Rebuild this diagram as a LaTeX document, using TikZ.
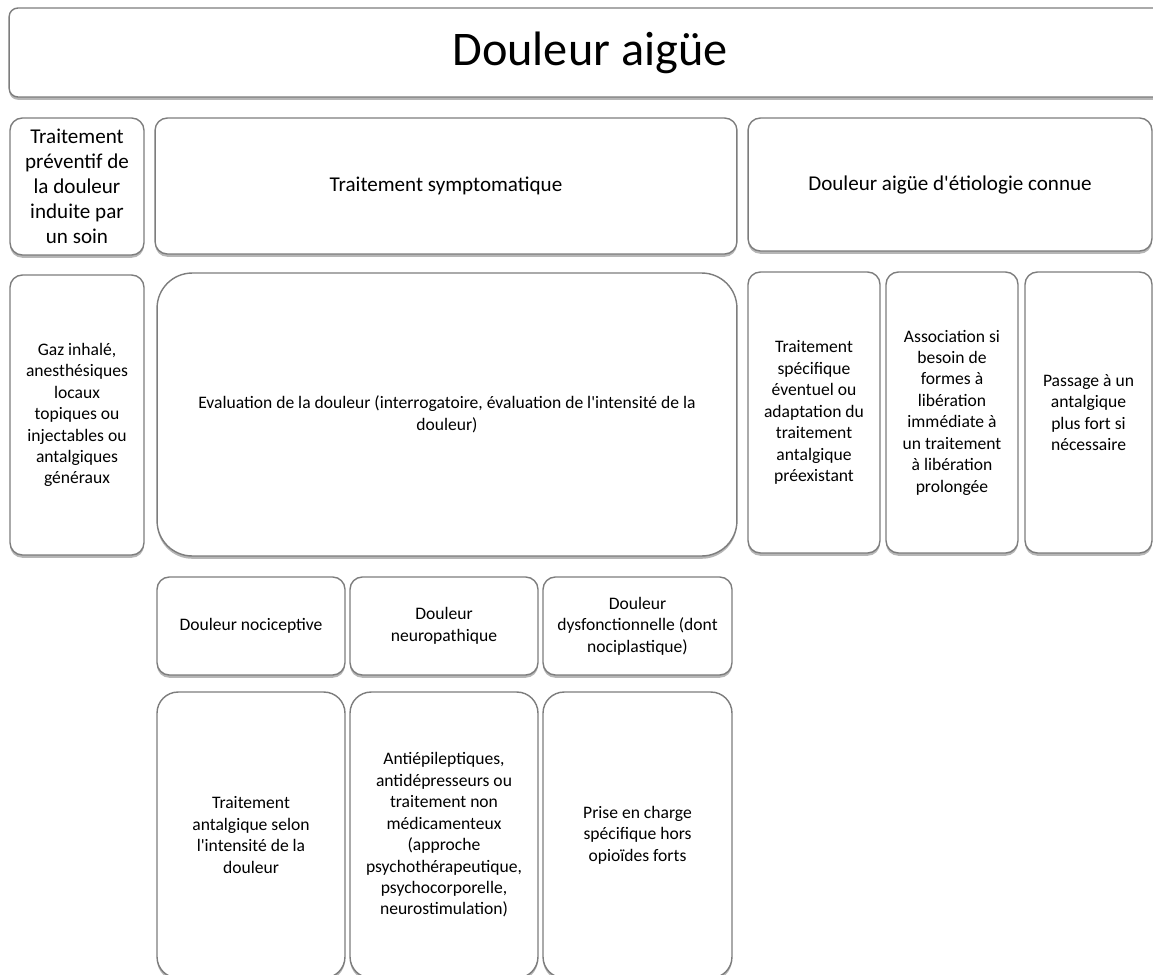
\documentclass[tikz,border=0pt]{standalone}
\usepackage{fontspec}
\setmainfont{Carlito}
\usepackage{tikz}
\usepackage{xcolor}
\usetikzlibrary{shadows}
\definecolor{boxline}{RGB}{125,125,125}
\definecolor{boxshade}{RGB}{95,95,95}
\newcommand{\apos}{\textquotesingle}
\tikzstyle{cbox}=[rectangle, rounded corners=7pt, draw=boxline, line width=0.8pt,
  fill=white, align=center, inner sep=2pt,
  font=\fontsize{10}{12.2}\selectfont,
  drop shadow={shadow xshift=0pt, shadow yshift=-1.6pt, fill=boxshade, opacity=0.45}]
\tikzstyle{headbox}=[cbox, font=\fontsize{12}{14.3}\selectfont]

\begin{document}
\begin{tikzpicture}[x=0.02cm, y=-0.02cm]
        \path[use as bounding box, clip] (0,0) rectangle (1153,974);
        \fill[white] (0,0) rectangle (1153,974);
        % titre
        \node[cbox, rounded corners=5pt, minimum width=23.24cm, minimum height=1.78cm,
          font=\fontsize{27.5}{32}\selectfont] (titre) at (590,52.5) {Douleur aigüe};
        % deuxieme ligne
        \node[headbox, minimum width=2.68cm, minimum height=2.74cm]
          (prev) at (77,186.5) {Traitement\\préventif de\\la douleur\\induite par\\un soin};
        \node[headbox, minimum width=11.64cm, minimum height=2.72cm]
          (sympt) at (446,186) {Traitement symptomatique};
        \node[headbox, minimum width=8.08cm, minimum height=2.66cm]
          (etio) at (950,184.5) {Douleur aigüe d\apos étiologie connue};
        % troisieme ligne
        \node[cbox, minimum width=2.68cm, minimum height=5.6cm]
          (gaz) at (77,415) {Gaz inhalé,\\anesthésiques\\locaux\\topiques ou\\injectables ou\\antalgiques\\généraux};
        \node[cbox, rounded corners=20pt, minimum width=11.6cm, minimum height=5.66cm]
          (eval) at (447,414.5) {Evaluation de la douleur (interrogatoire, évaluation de l\apos intensité de la\\douleur)};
        \node[cbox, minimum width=2.64cm, minimum height=5.62cm]
          (spec) at (814,412.5) {Traitement\\spécifique\\éventuel ou\\adaptation du\\traitement\\antalgique\\préexistant};
        \node[cbox, minimum width=2.64cm, minimum height=5.62cm]
          (assoc) at (952,412.5) {Association si\\besoin de\\formes à\\libération\\immédiate à\\un traitement\\à libération\\prolongée};
        \node[cbox, minimum width=2.54cm, minimum height=5.62cm]
          (passage) at (1088.5,412.5) {Passage à un\\antalgique\\plus fort si\\nécessaire};
        % types de douleur
        \node[cbox, minimum width=3.76cm, minimum height=1.96cm]
          (noci) at (251,626) {Douleur nociceptive};
        \node[cbox, minimum width=3.76cm, minimum height=1.96cm]
          (neuro) at (444,626) {Douleur\\neuropathique};
        \node[cbox, minimum width=3.78cm, minimum height=1.96cm]
          (dysf) at (637.5,626) {Douleur\\dysfonctionnelle (dont\\nociplastique)};
        % prises en charge
        \node[cbox, rounded corners=12pt, minimum width=3.76cm, minimum height=5.72cm]
          (tnoci) at (251,835) {Traitement\\antalgique selon\\l\apos intensité de la\\douleur};
        \node[cbox, rounded corners=12pt, minimum width=3.76cm, minimum height=5.72cm]
          (tneuro) at (444,835) {Antiépileptiques,\\antidépresseurs ou\\traitement non\\médicamenteux\\(approche\\psychothérapeutique,\\psychocorporelle,\\neurostimulation)};
        \node[cbox, rounded corners=12pt, minimum width=3.78cm, minimum height=5.72cm]
          (tdysf) at (637.5,835) {Prise en charge\\spécifique hors\\opioïdes forts};
      \end{tikzpicture}
\end{document}
